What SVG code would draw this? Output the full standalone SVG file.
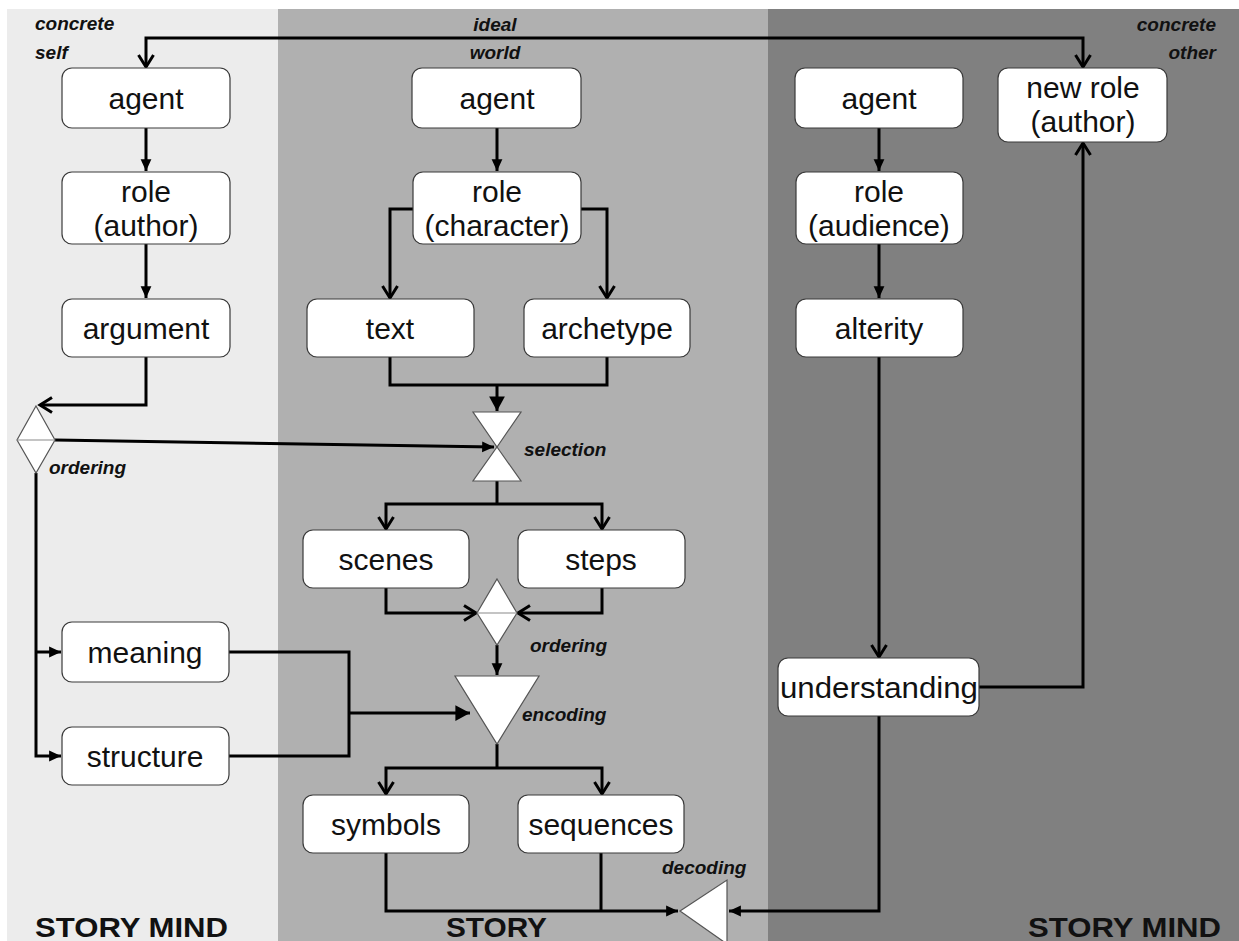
<svg xmlns="http://www.w3.org/2000/svg" width="1239" height="941" viewBox="0 0 1239 941">
  <defs>
    <style>
      .node rect { fill: #ffffff; stroke: #3a3a3a; stroke-width: 1.2; }
      .node text { font-family: "Liberation Sans", Arial, sans-serif; font-size: 30px; fill: #111; text-anchor: middle; }
      .op { fill: #ffffff; stroke: #555555; stroke-width: 1.2; }
      .div { stroke: #8a8a8a; stroke-width: 1.2; }
      .lbl { font-family: "Liberation Sans", Arial, sans-serif; font-size: 19px; font-weight: bold; font-style: italic; fill: #111; }
      .title { font-family: "Liberation Sans", Arial, sans-serif; font-size: 28px; font-weight: bold; fill: #111; }
      #connectors path { fill: none; stroke: #000; stroke-width: 3; }
    </style>
    <marker id="open" markerUnits="userSpaceOnUse" markerWidth="20" markerHeight="20" viewBox="-14 -10 16 20" refX="0" refY="0" orient="auto-start-reverse">
      <path d="M-12,-7.5 L0,0 L-12,7.5" fill="none" stroke="#000" stroke-width="3"/>
    </marker>
    <marker id="solid" markerUnits="userSpaceOnUse" markerWidth="14" markerHeight="14" viewBox="-12 -6 13 12" refX="0" refY="0" orient="auto-start-reverse">
      <path d="M-11,-5 L0,0 L-11,5 Z" fill="#000"/>
    </marker>
    <marker id="solidL" markerUnits="userSpaceOnUse" markerWidth="18" markerHeight="18" viewBox="-14 -8 15 16" refX="0" refY="0" orient="auto">
      <path d="M-13,-7 L0,0 L-13,7 Z" fill="#000"/>
    </marker>
  </defs>

  <!-- backgrounds of the three zones -->
  <rect x="0" y="0" width="1239" height="941" fill="#ffffff"/>
  <rect x="7" y="9" width="271" height="932" fill="#ececec"/>
  <rect x="278" y="9" width="490" height="932" fill="#b0b0b0"/>
  <rect x="768" y="9" width="471" height="932" fill="#808080"/>

  <!-- zone labels -->
  <text class="lbl" x="35" y="30">concrete</text>
  <text class="lbl" x="35" y="59">self</text>
  <text class="lbl" x="495" y="31" text-anchor="middle">ideal</text>
  <text class="lbl" x="495" y="59" text-anchor="middle">world</text>
  <text class="lbl" x="1216" y="31" text-anchor="end">concrete</text>
  <text class="lbl" x="1216" y="59" text-anchor="end">other</text>
  <text class="title" x="35" y="937" textLength="193" lengthAdjust="spacingAndGlyphs">STORY MIND</text>
  <text class="title" x="446" y="937" textLength="101" lengthAdjust="spacingAndGlyphs">STORY</text>
  <text class="title" x="1028" y="937" textLength="193" lengthAdjust="spacingAndGlyphs">STORY MIND</text>

  <!-- connectors -->
  <g id="connectors">
    <path d="M146,67 V38 H1083 V67" marker-start="url(#open)" marker-end="url(#open)"/>
    <path d="M146,128 V171" marker-end="url(#solid)"/>
    <path d="M146,244 V298" marker-end="url(#solid)"/>
    <path d="M146,357 V405 H40" marker-end="url(#open)"/>
    <path d="M55,440 L494,447" marker-end="url(#solid)"/>
    <path d="M36,473 V756 H61" marker-end="url(#solid)"/>
    <path d="M36,652 H61" marker-end="url(#solid)"/>

    <path d="M497,128 V171" marker-end="url(#solid)"/>
    <path d="M413,209 H390 V298" marker-end="url(#open)"/>
    <path d="M581,209 H607 V298" marker-end="url(#open)"/>
    <path d="M390,357 V385 H607 V357"/>
    <path d="M497,385 V411" marker-end="url(#solidL)"/>
    <path d="M497,481 V504"/>
    <path d="M386,529 V504 H602 V529" marker-start="url(#open)" marker-end="url(#open)"/>
    <path d="M386,588 V613 H476" marker-end="url(#open)"/>
    <path d="M602,588 V613 H518" marker-end="url(#open)"/>
    <path d="M497,645 V675" marker-end="url(#solid)"/>
    <path d="M229,652 H349 V756 H229"/>
    <path d="M349,713 H470" marker-end="url(#solidL)"/>
    <path d="M497,744 V768"/>
    <path d="M386,794 V768 H602 V794" marker-start="url(#open)" marker-end="url(#open)"/>
    <path d="M386,853 V911 H678" marker-end="url(#solid)"/>
    <path d="M601,853 V911"/>

    <path d="M879,128 V171" marker-end="url(#solid)"/>
    <path d="M879,244 V298" marker-end="url(#solid)"/>
    <path d="M879,357 V657" marker-end="url(#open)"/>
    <path d="M979,687 H1083 V143" marker-end="url(#open)"/>
    <path d="M879,716 V911 H729" marker-end="url(#solid)"/>
  </g>

  <!-- operators -->
  <g id="ordering-left">
    <path class="op" d="M36,406 L55,440 L36,473 L17,440 Z"/>
    <line class="div" x1="17" y1="440" x2="55" y2="440"/>
    <text class="lbl" x="49" y="474">ordering</text>
  </g>
  <g id="selection">
    <path class="op" d="M473,412 H521 L497,447 Z"/>
    <path class="op" d="M497,447 L521,481 H473 Z"/>
    <text class="lbl" x="524" y="456">selection</text>
  </g>
  <g id="ordering-mid">
    <path class="op" d="M497,579 L517,613 L497,645 L477,613 Z"/>
    <line class="div" x1="477" y1="613" x2="517" y2="613"/>
    <text class="lbl" x="530" y="652">ordering</text>
  </g>
  <g id="encoding">
    <path class="op" d="M455,676 H539 L497,744 Z"/>
    <text class="lbl" x="522" y="721">encoding</text>
  </g>
  <g id="decoding">
    <path class="op" d="M680,911 L727,880 V944 Z"/>
    <text class="lbl" x="662" y="874">decoding</text>
  </g>

  <!-- left column: concrete self -->
  <g id="agent-self" class="node">
    <rect x="62" y="68" width="168" height="60" rx="10"/>
    <text x="146" y="109">agent</text>
  </g>
  <g id="role-author" class="node">
    <rect x="62" y="172" width="168" height="72" rx="10"/>
    <text x="146" y="202">role</text>
    <text x="146" y="236">(author)</text>
  </g>
  <g id="argument" class="node">
    <rect x="62" y="299" width="168" height="58" rx="10"/>
    <text x="146" y="339">argument</text>
  </g>
  <g id="meaning" class="node">
    <rect x="62" y="622" width="167" height="60" rx="10"/>
    <text x="145" y="663">meaning</text>
  </g>
  <g id="structure" class="node">
    <rect x="62" y="727" width="167" height="58" rx="10"/>
    <text x="145" y="767">structure</text>
  </g>

  <!-- middle column: ideal world -->
  <g id="agent-world" class="node">
    <rect x="412" y="68" width="169" height="60" rx="10"/>
    <text x="497" y="109">agent</text>
  </g>
  <g id="role-character" class="node">
    <rect x="413" y="172" width="168" height="72" rx="10"/>
    <text x="497" y="202">role</text>
    <text x="497" y="236">(character)</text>
  </g>
  <g id="text" class="node">
    <rect x="307" y="299" width="167" height="58" rx="10"/>
    <text x="390" y="339">text</text>
  </g>
  <g id="archetype" class="node">
    <rect x="524" y="299" width="166" height="58" rx="10"/>
    <text x="607" y="339">archetype</text>
  </g>
  <g id="scenes" class="node">
    <rect x="303" y="530" width="166" height="58" rx="10"/>
    <text x="386" y="570">scenes</text>
  </g>
  <g id="steps" class="node">
    <rect x="518" y="530" width="167" height="58" rx="10"/>
    <text x="601" y="570">steps</text>
  </g>
  <g id="symbols" class="node">
    <rect x="303" y="795" width="166" height="58" rx="10"/>
    <text x="386" y="835">symbols</text>
  </g>
  <g id="sequences" class="node">
    <rect x="518" y="795" width="166" height="58" rx="10"/>
    <text x="601" y="835">sequences</text>
  </g>

  <!-- right column: concrete other -->
  <g id="agent-other" class="node">
    <rect x="795" y="68" width="168" height="60" rx="10"/>
    <text x="879" y="109">agent</text>
  </g>
  <g id="new-role-author" class="node">
    <rect x="998" y="68" width="169" height="74" rx="10"/>
    <text x="1083" y="98">new role</text>
    <text x="1083" y="132">(author)</text>
  </g>
  <g id="role-audience" class="node">
    <rect x="796" y="172" width="167" height="72" rx="10"/>
    <text x="879" y="202">role</text>
    <text x="879" y="236">(audience)</text>
  </g>
  <g id="alterity" class="node">
    <rect x="796" y="299" width="167" height="58" rx="10"/>
    <text x="879" y="339">alterity</text>
  </g>
  <g id="understanding" class="node">
    <rect x="778" y="658" width="201" height="58" rx="10"/>
    <text x="879" y="698" textLength="198" lengthAdjust="spacingAndGlyphs">understanding</text>
  </g>
</svg>
